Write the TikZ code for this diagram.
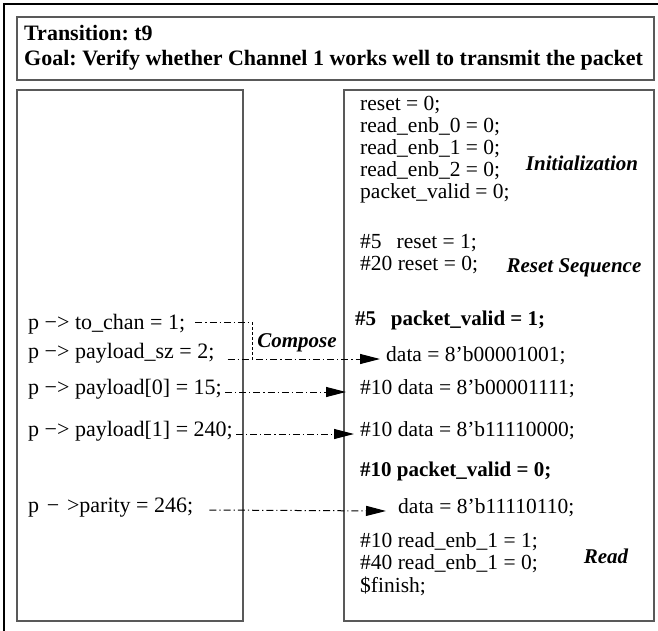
\documentclass[tikz,border=0pt]{standalone}
\usepackage{fontspec}
\setmainfont{Liberation Serif}
\usetikzlibrary{arrows.meta}
\frenchspacing
\begin{document}
\begin{tikzpicture}[x=1pt,y=-1pt,
  frame/.style={draw=black!65,line width=1.1pt},
  code/.style={anchor=west,inner sep=0pt,font=\fontsize{21.5}{22}\selectfont,
    text height=0.7em,text depth=0.25em},
  field/.style={code,font=\fontsize{22}{22}\selectfont},
  bcode/.style={code,font=\fontsize{21}{22}\selectfont\bfseries},
  head/.style={code,font=\fontsize{22}{22}\selectfont\bfseries},
  tag/.style={inner sep=0pt,font=\fontsize{21}{22}\selectfont\bfseries\itshape},
  flow/.style={line width=1pt,dash pattern=on 7pt off 3pt on 1.2pt off 3pt},
  flowarrow/.style={flow,-{Triangle[length=20pt,width=10pt]}},
  link/.style={line width=0.6pt,dash pattern=on 3pt off 2pt}]
\useasboundingbox (0,0) rectangle (658,631);
% page frame, open towards the right and bottom
\draw[line width=1.1pt] (4,640) -- (4,4) -- (670,4);

% heading box
\draw[frame] (17,17) rectangle (654,80);
\node[head] (h1) at (24,38) {Transition: t9};
\node[head] (h2) at (24,63) {Goal: Verify whether Channel 1 works well to transmit the packet};

% the two columns
\draw[frame] (17,90) rectangle (243,621);
\draw[frame] (344,90) rectangle (654,621);

% packet fields
\node[field] (p1) at (28,327) {p −> to\_chan = 1;};
\node[field] (p2) at (28,356) {p −> payload\_sz = 2;};
\node[field] (p3) at (28,392) {p −> payload[0] = 15;};
\node[field] (p4) at (28,434) {p −> payload[1] = 240;};
\node[field] (p5) at (28,510) {p\hspace{0.35em}−\hspace{0.35em}>parity = 246;};

% stimulus code
\node[code] (r1) at (360,108) {reset = 0;};
\node[code] (r2) at (360,130) {read\_enb\_0 = 0;};
\node[code] (r3) at (360,152) {read\_enb\_1 = 0;};
\node[code] (r4) at (360,174) {read\_enb\_2 = 0;};
\node[code] (r5) at (360,196) {packet\_valid = 0;};
\node[code] (s1) at (360,246) {\#5\hspace{0.7em}reset = 1;};
\node[code] (s2) at (360,268) {\#20 reset = 0;};
\node[bcode] (v1) at (355,323) {\#5\hspace{0.7em}packet\_valid = 1;};
\node[code] (d1) at (386,359) {data = 8’b00001001;};
\node[code] (d2) at (360,392) {\#10 data = 8’b00001111;};
\node[code] (d3) at (360,434) {\#10 data = 8’b11110000;};
\node[bcode] (v0) at (360,474) {\#10 packet\_valid = 0;};
\node[code] (d4) at (398,511) {data = 8’b11110110;};
\node[code] (e1) at (360,545) {\#10 read\_enb\_1 = 1;};
\node[code] (e2) at (360,567) {\#40 read\_enb\_1 = 0;};
\node[code] (e3) at (360,590) {\$finish;};

% phase labels
\node[tag] (tInit) at (582,163) {Initialization};
\node[tag] (tReset) at (574,268) {Reset Sequence};
\node[tag] (tComp) at (297,343) {Compose};
\node[tag] (tRead) at (606,556) {Read};

% data flow from the packet fields to the code
\coordinate (jt) at (252,322);
\coordinate (jb) at (252,359);
\draw[flow] ([xshift=10pt]p1.east |- jt) -- (jt);
\draw[link] (jt) -- (jb);
\draw[flowarrow] ([xshift=13pt]p2.east |- jb) -- ([xshift=-6pt]d1.west);
\draw[flowarrow] ([xshift=3pt]p3.east) -- ([xshift=-14pt]d2.west);
\draw[flowarrow] ([xshift=3pt]p4.east) -- ([xshift=-6pt]d3.west);
\draw[flowarrow] ([xshift=16pt]p5.east) -- ([xshift=-12pt]d4.west);
\end{tikzpicture}
\end{document}
